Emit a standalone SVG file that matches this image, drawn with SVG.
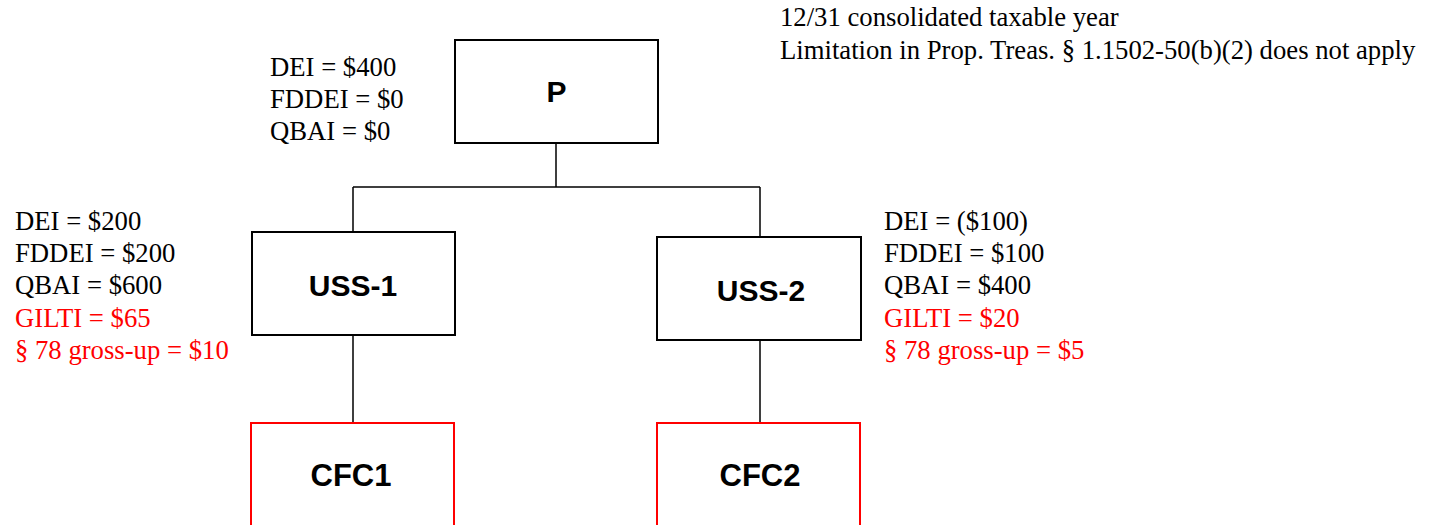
<svg xmlns="http://www.w3.org/2000/svg" width="1430" height="525" viewBox="0 0 1430 525">
<style>
.box{fill:#fff;stroke:#000;stroke-width:2}
.cfc{fill:#fff;stroke:#f00;stroke-width:2}
.name{font-family:"Liberation Sans",Arial,sans-serif;font-weight:bold;font-size:30px;fill:#000;text-anchor:middle}
.big{font-size:31px}
.lbl{font-family:"Liberation Serif","Times New Roman",serif;font-size:26.7px;fill:#000}
.red{fill:#f00}
.conn{fill:none;stroke:#000;stroke-width:1.5}
</style>
<rect width="1430" height="525" fill="#fff"/>
<g id="connectors">
<path class="conn" d="M556,143 V187 M353,187 H760 M353,187 V232 M760,187 V237 M353,335 V423 M760,340 V423"/>
</g>
<g id="note">
<text class="lbl" x="780" y="26">12/31 consolidated taxable year</text>
<text class="lbl" x="780" y="59">Limitation in Prop. Treas. § 1.1502-50(b)(2) does not apply</text>
</g>
<g id="P">
<rect class="box" x="455" y="40" width="203" height="103"/>
<text class="name" x="556.5" y="102">P</text>
<text class="lbl" x="270" y="76">DEI = $400</text>
<text class="lbl" x="270" y="108">FDDEI = $0</text>
<text class="lbl" x="270" y="140">QBAI = $0</text>
</g>
<g id="USS-1">
<rect class="box" x="252" y="232" width="203" height="103"/>
<text class="name" x="353" y="296">USS-1</text>
<text class="lbl" x="15" y="230">DEI = $200</text>
<text class="lbl" x="15" y="262">FDDEI = $200</text>
<text class="lbl" x="15" y="294">QBAI = $600</text>
<text class="lbl red" x="15" y="327">GILTI = $65</text>
<text class="lbl red" x="15" y="359">§ 78 gross-up = $10</text>
</g>
<g id="USS-2">
<rect class="box" x="657" y="237" width="204" height="103"/>
<text class="name" x="761" y="301">USS-2</text>
<text class="lbl" x="884" y="230">DEI = ($100)</text>
<text class="lbl" x="884" y="262">FDDEI = $100</text>
<text class="lbl" x="884" y="294">QBAI = $400</text>
<text class="lbl red" x="884" y="327">GILTI = $20</text>
<text class="lbl red" x="884" y="359">§ 78 gross-up = $5</text>
</g>
<g id="CFC1">
<rect class="cfc" x="251" y="423" width="203" height="103"/>
<text class="name big" x="351" y="486">CFC1</text>
</g>
<g id="CFC2">
<rect class="cfc" x="657" y="423" width="203" height="103"/>
<text class="name big" x="760" y="486">CFC2</text>
</g>
</svg>
